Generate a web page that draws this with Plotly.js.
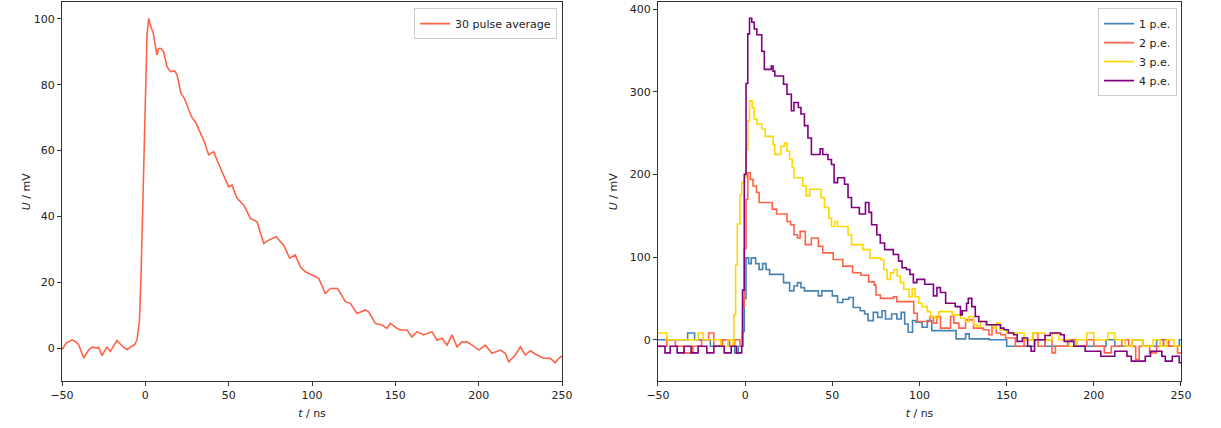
<!DOCTYPE html>
<html>
<head>
<meta charset="utf-8">
<script src="https://cdn.plot.ly/plotly-3.0.1.min.js"></script>
<style>html,body{margin:0;padding:0;background:#fff;}#chart{width:1221px;height:428px;}</style>
</head>
<body>
<div id="chart"></div>
<script>
// Left panel: 30 pulse average
const avgT = [-50,-47.5,-44,-42,-40,-37,-34,-32,-29,-28,-26,-23,-21,-17,-14,-11,-8.5,-6.5,-5,-3.5,-2.5,-2,-1,0,1,2,3,4.6,6,7,8,9.4,11,13,15,17.6,19,21.4,23.4,26.6,28,30,33,35.4,38,41,43.4,46,48,50,52,55,59,63,67,71,74,78.6,81,83,86.6,90,93,96,100,104,108,111,115.4,120,123,127,132,134,138,142,145,147,151,153,157,160,163,167,172,175,178,181,184,187,190,193,196,200,204,208,213,216,218,222,225,228,231,235,239,243,246,248,250];
const avgU = [-0.5,1.5,2.5,2,1,-3,-0.5,0.3,0,0.3,-2.3,0.3,-1,2.3,0.7,-0.5,0.5,1,2.5,8.6,23.7,35,55,80,95,100.2,98,96,92,89,91,91,90,85.5,84,84.2,83,77.4,75.9,71.8,70,68.8,65.3,62.7,58.7,59.7,56.6,53.6,51,49,49.5,45.5,43.5,39.4,38.4,31.8,32.8,33.8,32.3,31.3,27.3,28.3,24.7,23.2,22.2,21.2,16.6,18.1,18.1,14.1,13.6,10.5,11.6,11,7.5,7,6,7.5,6,5.5,5.5,3.4,5,4,5,2.4,3,0.9,4,0.4,1.9,1.9,0.9,-0.6,0.9,-1.6,-0.6,-1.6,-4.2,-2.1,0.4,-2.1,-0.8,-2.1,-3.1,-3.1,-4.5,-3.1,-2.4];

// Right panel: single pulses, 1-4 p.e.
const pe1T = [-50,-33,-29,-20,-14,-9,-6,-4,-1.5,-0.5,0.5,2,3.5,6,8,10,12,14,22,25.5,28,30,32,34,42,44,50,53,56,59.5,62,66,68.5,70.5,73.5,76,78.5,80.5,84,87,89.5,91.5,93.5,96,98,101.5,104.5,107,121,126.5,128.5,140,150,160,166,172,185,190,207,212,222,228,236,240,249,250];
const pe1U = [0,8,0,-8,0,-8,-16,-8,10,50,99,92,99,92,85,92,85,79,69,59,65,69,63,59,53,59,53,45,49,51,39,35,31,23,33,27,35,25,31,25,33,19,9,23,21,15,23,11,1,7,1,0,-8,-8,0,-8,0,-8,0,-8,0,-8,0,-8,0,0];

const pe2T = [-50,-45,-40,-35,-30,-25,-21,-18,-13,-9,-6,-3,-1.5,-0.5,0.5,1.5,3,4.5,6.5,8,15.5,18,24,26,28,30,31.5,34.5,38,42,44.5,50.5,56,59.6,61.6,66.4,70.8,74,75,77.6,85,87,93,96.7,98.7,104,106,108,110,112,117.8,119.7,122.6,126.4,131,136.6,139.8,141.6,144,146.6,149.4,155,160,165,168,172,176,178,185,190,196,200,206,210,216,220,224,226,232,236,240,243,248,250];
const pe2U = [-8,0,-8,-16,-8,0,8,-8,0,-8,0,-8,40,110,170,202,194,186,178,166,158,152,143,139,127,123,131,115,123,113,105,97,89,89,81,78,70,66,54,50,52,46,46,32,22,22,28,20,28,14,28,20,14,24,14,12,6,18,8,6,2,-8,0,8,-8,0,-16,-8,0,-8,0,-8,-16,-8,0,-8,-24,-8,-16,-8,0,-8,-16,-16];

const pe3T = [-50,-45,-27,-24,-14,-10,-7,-6.5,-5.5,-4.5,-3,-2,-0.5,0.5,1.5,2.5,4,5.2,6.7,9.5,11.5,16,17,20.5,22.5,24,25.5,27,28,33,35,37,43.5,45.5,48,49.5,51.5,53,59,61,67.5,71.5,77.6,79.5,81.4,83.3,85.2,87.2,89,91,94,95.8,97.5,99.6,101.5,104.4,106.3,109,111,118.8,123.6,126.4,128.4,131,133,135,138,142.4,144.3,146.2,150,160,165,172,176,180,186,190,196,200,208,212,218,222,228,234,238,242,246,250];
const pe3U = [8,0,8,0,-8,0,-8,30,90,140,175,190,196,230,265,289,281,267,261,255,246,236,224,234,238,228,218,208,196,186,174,182,172,160,147,137,143,137,127,115,109,99,97,85,73,81,85,77,69,61,52,62,52,44,40,34,28,26,34,30,26,22,28,18,16,22,18,14,20,12,8,0,8,0,8,0,-8,0,8,0,8,0,-8,0,-8,0,-8,0,-8,-8];

const pe4T = [-50,-46,-43,-39,-35,-31,-27,-22,-18,-12,-8,-5,-2,-1.5,-0.5,0.5,1.5,2.5,3.8,5.2,6.7,9.5,11,15,16,17,22,24,26.5,28,30.5,32,34,36,38,43,44.5,47.5,49.5,51,53,57,59,61,65.5,69,71,72.5,75.5,77.5,80,85,88,90,92.5,94.5,96.5,98.5,103,108,110,112,115,120.5,123.5,124.5,127,128,130,132,134,138.5,146.5,148.5,151,154,156,159,162,164,166,172,175,181,183,188.5,195,204,212,219,221.5,229.5,232.5,239,241,245,249,250];
const pe4U = [-8,-16,-8,-16,-8,-16,-8,-16,-8,-16,-8,-16,-8,60,200,310,370,389,384,376,369,349,327,331,325,319,309,297,277,287,281,273,259,244,224,231,224,218,212,190,196,188,172,160,152,166,154,139,127,117,109,103,95,87,85,79,69,73,67,53,63,57,44,40,30,35,44,50,40,28,22,18,14,12,8,6,-2,2,-8,-14,0,5,8,6,-2,-8,-14,-20,-14,-20,-26,-20,-14,-20,-26,-20,-28,-28];

const xTicks = [-50,0,50,100,150,200,250];
const FONT = 'DejaVu Sans, sans-serif';
const tickFont = {family: FONT, size: 11, color: '#222'};

function axisBase(extra) {
  return Object.assign({
    showline: true, linecolor: '#333', linewidth: 1, mirror: true,
    ticks: 'outside', ticklen: 4, tickwidth: 1, tickcolor: '#333',
    showgrid: false, zeroline: false, tickfont: tickFont, automargin: false
  }, extra);
}

const traces = [
  {x: avgT, y: avgU, type: 'scatter', mode: 'lines', name: '30 pulse average',
   line: {color: '#FF6347', width: 1.6}, xaxis: 'x', yaxis: 'y', legend: 'legend'},
  {x: pe1T, y: pe1U, type: 'scatter', mode: 'lines', name: '1 p.e.',
   line: {color: '#4682B4', width: 1.6, shape: 'hv'}, xaxis: 'x2', yaxis: 'y2', legend: 'legend2'},
  {x: pe2T, y: pe2U, type: 'scatter', mode: 'lines', name: '2 p.e.',
   line: {color: '#FF6347', width: 1.6, shape: 'hv'}, xaxis: 'x2', yaxis: 'y2', legend: 'legend2'},
  {x: pe3T, y: pe3U, type: 'scatter', mode: 'lines', name: '3 p.e.',
   line: {color: '#FFD700', width: 1.6, shape: 'hv'}, xaxis: 'x2', yaxis: 'y2', legend: 'legend2'},
  {x: pe4T, y: pe4U, type: 'scatter', mode: 'lines', name: '4 p.e.',
   line: {color: '#800080', width: 1.6, shape: 'hv'}, xaxis: 'x2', yaxis: 'y2', legend: 'legend2'}
];

const legendBase = {
  bgcolor: 'rgba(255,255,255,0.8)', bordercolor: '#ccc', borderwidth: 1,
  font: {family: FONT, size: 11, color: '#222'}, xanchor: 'right', yanchor: 'top',
  itemwidth: 30, tracegroupgap: 0
};

const titleFont = {family: FONT, size: 11, color: '#222'};

const layout = {
  width: 1221, height: 428,
  margin: {l: 0, r: 0, t: 0, b: 0},
  paper_bgcolor: '#fff', plot_bgcolor: '#fff',
  showlegend: true,
  font: {family: FONT, size: 11, color: '#222'},
  xaxis: axisBase({domain: [0.05078, 0.46028], range: [-50, 250], tickvals: xTicks,
    title: {text: '<i>t</i> / ns', font: titleFont, standoff: 8}, anchor: 'y'}),
  yaxis: axisBase({domain: [0.1098, 0.9942], range: [-10, 105], dtick: 20, tick0: 0,
    title: {text: '<i>U</i> / mV', font: titleFont, standoff: 0}, anchor: 'x'}),
  xaxis2: axisBase({domain: [0.5389, 0.96724], range: [-50, 250], tickvals: xTicks,
    title: {text: '<i>t</i> / ns', font: titleFont, standoff: 8}, anchor: 'y2'}),
  yaxis2: axisBase({domain: [0.1098, 0.9942], range: [-50, 408], dtick: 100, tick0: 0,
    title: {text: '<i>U</i> / mV', font: titleFont, standoff: 9}, anchor: 'x2'}),
  legend: Object.assign({x: 0.4562, y: 0.981}, legendBase),
  legend2: Object.assign({x: 0.9640, y: 0.981}, legendBase)
};

Plotly.newPlot('chart', traces, layout, {displayModeBar: false, staticPlot: true});
</script>
</body>
</html>
